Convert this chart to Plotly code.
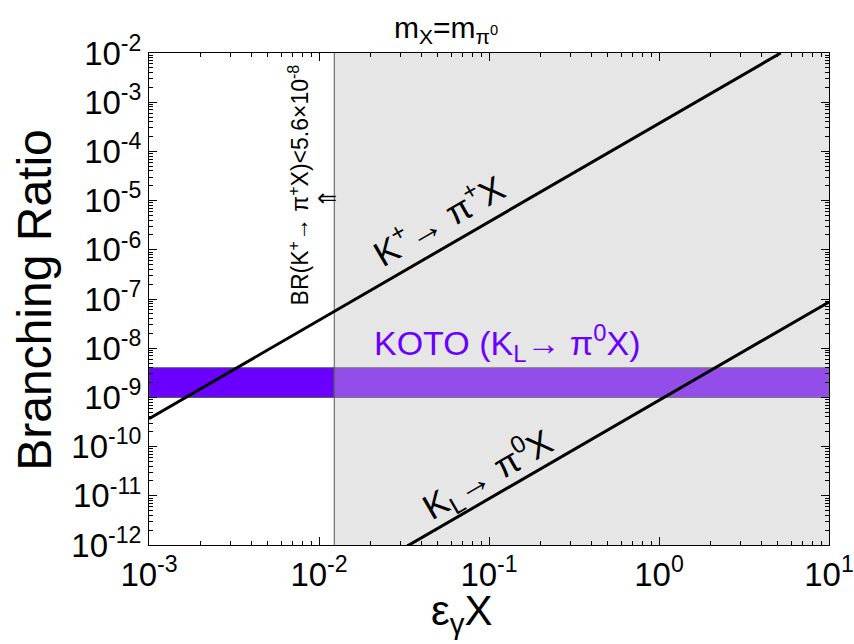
import plotly.graph_objects as go

# ---- data ----
x_kplus = [1e-3, 5.2]
br_kplus = [3.7e-10, 1e-2]
x_kl = [0.033, 10]
br_kl = [9.5e-13, 8.7e-8]
koto_band = [1.0e-9, 4.0e-9]
na62_eps = 0.0123
x_range = [1e-3, 10]
y_range = [1e-12, 1e-2]
x_tickvals = [1e-3, 1e-2, 1e-1, 1, 10]
x_ticktext = ["10<sup>-3</sup>", "10<sup>-2</sup>", "10<sup>-1</sup>", "10<sup>0</sup>", "10<sup>1</sup>"]
y_exps = [-2, -3, -4, -5, -6, -7, -8, -9, -10, -11, -12]
y_tickvals = [10.0 ** e for e in y_exps]
y_ticktext = ["10<sup>%d</sup>" % e for e in y_exps]

FONT = "Liberation Sans, Arial, sans-serif"

def minor_vals(lo, hi):
    vals = []
    for e in range(lo, hi):
        for m in range(2, 10):
            vals.append(m * 10.0 ** e)
    return vals

fig = go.Figure()

fig.add_trace(go.Scatter(x=x_kplus, y=br_kplus, mode="lines",
                         line=dict(color="black", width=3), showlegend=False))
fig.add_trace(go.Scatter(x=x_kl, y=br_kl, mode="lines",
                         line=dict(color="black", width=3), showlegend=False))

# excluded (grey) region right of NA62 bound
fig.add_shape(type="rect", xref="x", yref="y", x0=na62_eps, x1=x_range[1],
              y0=y_range[0], y1=y_range[1], fillcolor="#E6E6E6",
              line=dict(width=0), layer="below")
# KOTO band
fig.add_shape(type="rect", xref="x", yref="y", x0=x_range[0], x1=na62_eps,
              y0=koto_band[0], y1=koto_band[1], fillcolor="#6A00FF",
              line=dict(color="#555555", width=1), layer="below")
fig.add_shape(type="rect", xref="x", yref="y", x0=na62_eps, x1=x_range[1],
              y0=koto_band[0], y1=koto_band[1], fillcolor="#934DE8",
              line=dict(color="#777777", width=1), layer="below")
# NA62 vertical line
fig.add_shape(type="line", xref="x", yref="y", x0=na62_eps, x1=na62_eps,
              y0=y_range[0], y1=y_range[1], line=dict(color="#555555", width=1),
              layer="below")

C = dict(showarrow=False, xanchor="center", yanchor="middle")

fig.add_annotation(x=-2.12, y=-4.68, xref="x", yref="y",
                   text="BR(K<sup>+</sup>→ π<sup>+</sup>X)<5.6×10<sup>-8</sup>",
                   textangle=-90, font=dict(family=FONT, size=23, color="black"), **C)
fig.add_annotation(x=-1.955, y=-4.95, xref="x", yref="y", text="⇐",
                   font=dict(family="DejaVu Sans", size=24, color="black"), **C)
fig.add_annotation(x=-1.30, y=-5.38, xref="x", yref="y",
                   text="K<sup>+</sup>→ π<sup>+</sup>X", textangle=-30,
                   font=dict(family=FONT, size=35, color="black"), **C)
fig.add_annotation(x=-1.01, y=-10.56, xref="x", yref="y",
                   text="K<sub>L</sub>→ π<sup>0</sup>X", textangle=-30,
                   font=dict(family=FONT, size=35, color="black"), **C)
fig.add_annotation(x=-0.89, y=-7.89, xref="x", yref="y",
                   text="KOTO (K<sub>L</sub>→ π<sup>0</sup>X)",
                   font=dict(family=FONT, size=34, color="#6A00FF"), **C)

# axis titles and chart title (paper coords; plot area 680 x 492 px)
fig.add_annotation(x=-0.168, y=0.498, xref="paper", yref="paper",
                   text="Branching Ratio", textangle=-90,
                   font=dict(family=FONT, size=48, color="black"), **C)
fig.add_annotation(x=0.46, y=-0.14, xref="paper", yref="paper",
                   text="ε<sub>γ</sub>X",
                   font=dict(family=FONT, size=42, color="black"), **C)
fig.add_annotation(x=0.437, y=1.047, xref="paper", yref="paper",
                   text="m<sub>X</sub>=m<sub>π<sup>0</sup></sub>",
                   font=dict(family=FONT, size=30, color="black"), **C)

axis_common = dict(type="log", showgrid=False, zeroline=False, showline=True,
                   linecolor="black", linewidth=1, mirror="allticks",
                   ticks="inside", ticklen=8, tickcolor="black", automargin=False,
                   ticklabeloverflow="allow",
                   tickfont=dict(family=FONT, size=33, color="black"))

fig.update_xaxes(range=[-3, 1], tickvals=x_tickvals, ticktext=x_ticktext,
                 minor=dict(tickvals=minor_vals(-3, 1), ticks="inside", ticklen=4,
                            tickcolor="black"),
                 **axis_common)
fig.update_yaxes(range=[-12, -2], tickvals=y_tickvals, ticktext=y_ticktext,
                 minor=dict(tickvals=minor_vals(-12, -2), ticks="inside", ticklen=4,
                            tickcolor="black"),
                 **axis_common)

fig.update_layout(
    width=854, height=644,
    margin=dict(l=149, r=25, t=53, b=99),
    paper_bgcolor="white", plot_bgcolor="white",
)

# remove the default page margin so the 854x644 figure fills the window
fig.write_html("out.html", config={"displayModeBar": False},
               post_script="document.body.style.margin='0';document.body.style.overflow='hidden';")
